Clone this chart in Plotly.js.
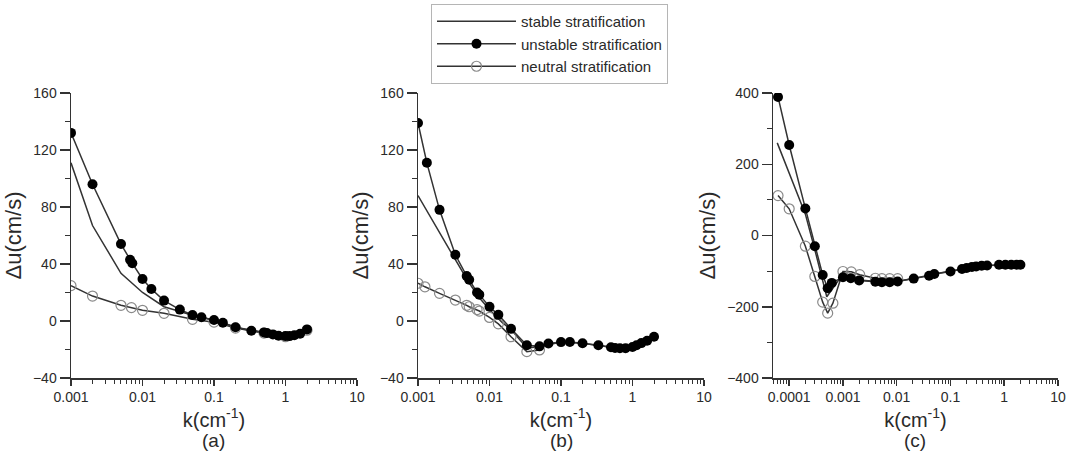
<!DOCTYPE html>
<html>
<head>
<meta charset="utf-8">
<script src="https://cdn.plot.ly/plotly-3.0.1.min.js"></script>
<style>html,body{margin:0;padding:0;background:#fff}#chart{width:1067px;height:452px}</style>
</head>
<body>
<div id="chart"></div>
<script>
// ---------- data ----------
// panel (a)
var a_unstable_k = [0.001, 0.002, 0.005, 0.0067, 0.0072, 0.01, 0.0133, 0.02, 0.0333, 0.05, 0.0667, 0.1, 0.133, 0.2, 0.333, 0.5, 0.55, 0.667, 0.8, 1, 1.14, 1.33, 1.6, 2];
var a_unstable_u = [132, 96, 54, 43, 40.5, 29.5, 22.5, 14.3, 8, 4.2, 2.6, 0.7, -1.2, -4.4, -6.8, -8, -8.5, -9.4, -10.3, -10.6, -10.6, -10, -9, -5.9];
var a_stable_k = [0.001, 0.002, 0.005, 0.01, 0.02, 0.0333, 0.05, 0.1, 0.2, 0.5, 1, 2];
var a_stable_u = [111, 67, 33.5, 20, 10, 6.5, 4, 0.7, -4.4, -8, -10.6, -5.9];
var a_neutral_k = [0.001, 0.002, 0.005, 0.007, 0.01, 0.02, 0.05, 0.1, 0.2, 0.5, 1, 2];
var a_neutral_u = [24.8, 17.5, 11, 9.4, 7.5, 5.4, 1.2, -0.8, -5, -8.5, -11, -6.5];
// panel (b)
var b_unstable_k = [0.001, 0.00133, 0.002, 0.00333, 0.0048, 0.0052, 0.0067, 0.0072, 0.01, 0.0133, 0.02, 0.0333, 0.05, 0.0667, 0.1, 0.133, 0.2, 0.333, 0.5, 0.57, 0.667, 0.8, 1, 1.14, 1.33, 1.6, 2];
var b_unstable_u = [139, 111, 78, 46.5, 31.5, 29, 20, 18.5, 10, 4.3, -5.5, -17, -17.8, -15.8, -14.8, -14.7, -15.6, -17, -18.4, -19, -19.1, -19.1, -18.3, -17, -15.5, -13.8, -11];
var b_stable_k = [0.001, 0.0015, 0.002, 0.003, 0.005, 0.007, 0.01, 0.015, 0.02, 0.0333, 0.05, 0.1, 0.2, 0.5, 1, 2];
var b_stable_u = [88, 73, 63, 47, 28, 17, 8, -1, -6, -19, -18, -14.8, -15.6, -18.4, -18.3, -11];
var b_neutral_k = [0.001, 0.00125, 0.002, 0.00333, 0.0048, 0.0052, 0.0067, 0.0072, 0.01, 0.0133, 0.02, 0.0333, 0.05];
var b_neutral_u = [26.5, 24, 19.4, 14.7, 11, 10, 8, 7, 2.5, -2, -11, -21.5, -20.3];
// panel (c)
var c_unstable_k = [6.2e-5, 1e-4, 2e-4, 3e-4, 4.2e-4, 5.2e-4, 6.2e-4, 1e-3, 1.4e-3, 2e-3, 4e-3, 5.3e-3, 7.4e-3, 0.0104, 0.0207, 0.04, 0.05, 0.1, 0.164, 0.2, 0.25, 0.3, 0.38, 0.48, 0.8, 1.05, 1.35, 1.7, 2];
var c_unstable_u = [389, 254, 76, -30, -111, -148, -133, -117, -120, -126, -130, -131, -131, -129, -121, -113, -108, -101, -94, -91, -88.5, -86.7, -85, -84, -82, -82, -82, -82, -82];
var c_stable_k = [6e-5, 1e-4, 2e-4, 3e-4, 4e-4, 5e-4, 9e-4, 1.4e-3, 2e-3, 5e-3, 0.01, 0.02, 0.05, 0.1, 0.2, 0.5, 1, 2];
var c_stable_u = [260, 175, 60, -40, -115, -172, -118, -120, -125, -130, -129, -121, -108, -101, -91, -84, -82, -82];
var c_neutral_k = [6.2e-5, 1e-4, 2e-4, 3e-4, 4.2e-4, 5.2e-4, 6.5e-4, 1e-3, 1.43e-3, 2.05e-3, 4e-3, 5.3e-3, 7.4e-3, 0.0104];
var c_neutral_u = [112, 75, -30, -115, -187, -218, -190, -101, -102, -110, -120, -121, -121, -121];

// tick labels
var ab_tick_vals = [0.001, 0.01, 0.1, 1, 10];
var ab_tick_text = ['0.001', '0.01', '0.1', '1', '10'];
var c_tick_vals = [0.0001, 0.001, 0.01, 0.1, 1, 10];
var c_tick_text = ['0.0001', '0.001', '0.01', '0.1', '1', '10'];
var panel_labels = ['(a)', '(b)', '(c)'];
var series_names = ['stable stratification', 'unstable stratification', 'neutral stratification'];

// ---------- styling ----------
var W = 1067, H = 452;
var FONT = '"Liberation Sans", Arial, Helvetica, sans-serif';
var INK = '#2a2a2a';
var LINE = '#333333';

function minorVals(lo, hi) {
  var v = [];
  for (var d = lo; d < hi; d++) {
    for (var m = 2; m <= 9; m++) v.push(m * Math.pow(10, d));
  }
  return v;
}

function makeTraces(sk, su, uk, uu, nk, nu, xa, ya, show) {
  return [
    {x: sk, y: su, xaxis: xa, yaxis: ya, type: 'scatter', mode: 'lines', name: series_names[0],
     legendgroup: 's', showlegend: show, line: {color: LINE, width: 1.5}},
    {x: nk, y: nu, xaxis: xa, yaxis: ya, type: 'scatter', mode: 'lines+markers', name: series_names[2],
     legendgroup: 'n', showlegend: false, line: {color: LINE, width: 1.5},
     marker: {symbol: 'circle-open', size: 10, color: '#8a8a8a', line: {width: 1.2, color: '#8a8a8a'}}},
    {x: uk, y: uu, xaxis: xa, yaxis: ya, type: 'scatter', mode: 'lines+markers', name: series_names[1],
     legendgroup: 'u', showlegend: show, line: {color: LINE, width: 1.5},
     marker: {symbol: 'circle', size: 10, color: '#000'}}
  ];
}

var data = [].concat(
  makeTraces(a_stable_k, a_stable_u, a_unstable_k, a_unstable_u, a_neutral_k, a_neutral_u, 'x', 'y', true),
  makeTraces(b_stable_k, b_stable_u, b_unstable_k, b_unstable_u, b_neutral_k, b_neutral_u, 'x2', 'y2', false),
  makeTraces(c_stable_k, c_stable_u, c_unstable_k, c_unstable_u, c_neutral_k, c_neutral_u, 'x3', 'y3', false)
);
// legend entry for neutral (shown once, in order)
data.push({x: [null], y: [null], xaxis: 'x', yaxis: 'y', type: 'scatter', mode: 'lines+markers',
  name: series_names[2], legendgroup: 'n', showlegend: true, hoverinfo: 'skip',
  line: {color: LINE, width: 1.5},
  marker: {symbol: 'circle-open', size: 10, color: '#8a8a8a', line: {width: 1.2, color: '#8a8a8a'}}});

var yDom = [1 - 378 / H, 1 - 93 / H];

function xAxis(dom, range, tv, tt, minLo, minHi, anchor) {
  return {
    domain: dom, anchor: anchor, type: 'log', range: range,
    tickmode: 'array', tickvals: tv, ticktext: tt,
    showline: true, linecolor: LINE, linewidth: 1.5,
    ticks: 'outside', ticklen: 6, tickwidth: 1.5, tickcolor: LINE,
    minor: {tickmode: 'array', tickvals: minorVals(minLo, minHi), ticks: 'outside', ticklen: 4, tickwidth: 1, tickcolor: LINE},
    showgrid: false, zeroline: false,
    tickfont: {family: FONT, size: 14, color: INK},
    title: {text: 'k(cm<sup>-1</sup>)', font: {family: FONT, size: 20, color: INK}, standoff: 5}
  };
}
function yAxis(range, dt, mdt, anchor) {
  return {
    domain: yDom, anchor: anchor, range: range, tickmode: 'linear', tick0: 0, dtick: dt,
    showline: true, linecolor: LINE, linewidth: 1.5,
    ticks: 'outside', ticklen: 10, tickwidth: 1.5, tickcolor: LINE,
    minor: {tickmode: 'linear', tick0: 0, dtick: mdt, ticks: 'outside', ticklen: 5, tickwidth: 1, tickcolor: LINE},
    showgrid: false, zeroline: false,
    tickfont: {family: FONT, size: 14, color: INK},
    title: {text: 'Δu(cm/s)', font: {family: FONT, size: 22, color: INK}, standoff: 5}
  };
}

var layout = {
  width: W, height: H,
  margin: {l: 0, r: 0, t: 0, b: 0},
  paper_bgcolor: '#fff', plot_bgcolor: '#fff',
  font: {family: FONT, color: INK},
  showlegend: true,
  legend: {x: 431 / W, y: 1 - 4 / H, xanchor: 'left', yanchor: 'top',
    bgcolor: '#fff', bordercolor: '#b5b5b5', borderwidth: 1,
    font: {family: FONT, size: 15, color: INK}, itemwidth: 79, tracegroupgap: 0,
    traceorder: 'normal'},
  xaxis: xAxis([71 / W, 357 / W], [-3, 1], ab_tick_vals, ab_tick_text, -3, 1, 'y'),
  yaxis: yAxis([-40, 160], 40, 20, 'x'),
  xaxis2: xAxis([418 / W, 704 / W], [-3, 1], ab_tick_vals, ab_tick_text, -3, 1, 'y2'),
  yaxis2: yAxis([-40, 160], 40, 20, 'x2'),
  xaxis3: xAxis([773 / W, 1058 / W], [Math.log10(5e-5), 1], c_tick_vals, c_tick_text, -5, 1, 'y3'),
  yaxis3: yAxis([-400, 400], 200, 100, 'x3'),
  annotations: [
    {text: panel_labels[0], xref: 'paper', yref: 'paper', x: 214 / W, y: 1 - 440 / H, showarrow: false, xanchor: 'center', yanchor: 'middle', font: {family: FONT, size: 19, color: INK}},
    {text: panel_labels[1], xref: 'paper', yref: 'paper', x: 561 / W, y: 1 - 440 / H, showarrow: false, xanchor: 'center', yanchor: 'middle', font: {family: FONT, size: 19, color: INK}},
    {text: panel_labels[2], xref: 'paper', yref: 'paper', x: 915 / W, y: 1 - 440 / H, showarrow: false, xanchor: 'center', yanchor: 'middle', font: {family: FONT, size: 19, color: INK}}
  ]
};

Plotly.newPlot('chart', data, layout, {displayModeBar: false, staticPlot: true});
</script>
</body>
</html>
